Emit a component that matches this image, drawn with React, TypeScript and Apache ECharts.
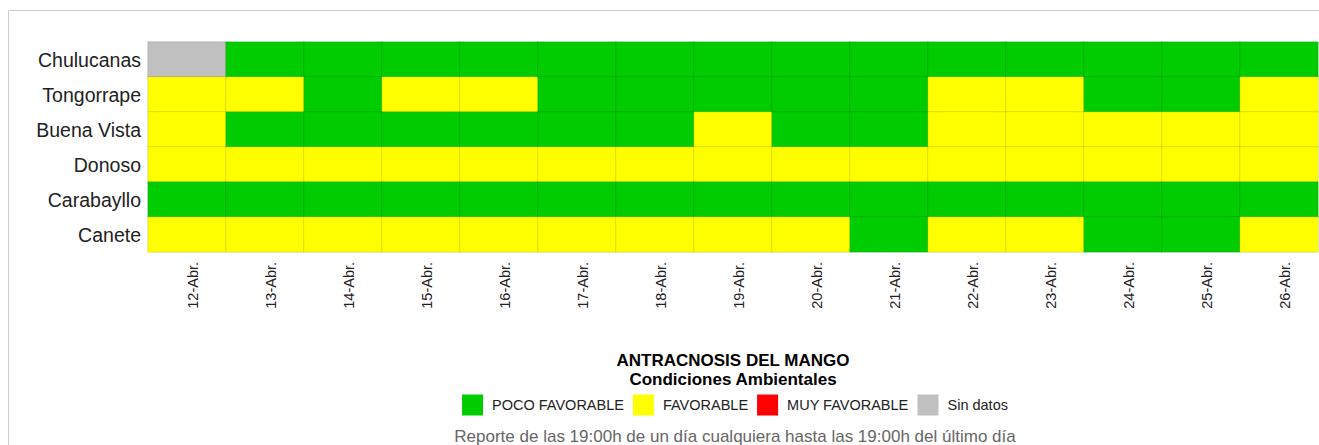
import React, { useEffect, useRef } from "react";
import * as echarts from "echarts";

const days = ["12-Abr.", "13-Abr.", "14-Abr.", "15-Abr.", "16-Abr.", "17-Abr.", "18-Abr.", "19-Abr.", "20-Abr.", "21-Abr.", "22-Abr.", "23-Abr.", "24-Abr.", "25-Abr.", "26-Abr."];
const stations = ["Chulucanas", "Tongorrape", "Buena Vista", "Donoso", "Carabayllo", "Canete"];

// 0 = Sin datos, 1 = POCO FAVORABLE, 2 = FAVORABLE, 3 = MUY FAVORABLE
const chulucanas = [0, 1, 1, 1, 1, 1, 1, 1, 1, 1, 1, 1, 1, 1, 1];
const tongorrape = [2, 2, 1, 2, 2, 1, 1, 1, 1, 1, 2, 2, 1, 1, 2];
const buenaVista = [2, 1, 1, 1, 1, 1, 1, 2, 1, 1, 2, 2, 2, 2, 2];
const donoso = [2, 2, 2, 2, 2, 2, 2, 2, 2, 2, 2, 2, 2, 2, 2];
const carabayllo = [1, 1, 1, 1, 1, 1, 1, 1, 1, 1, 1, 1, 1, 1, 1];
const canete = [2, 2, 2, 2, 2, 2, 2, 2, 2, 1, 2, 2, 1, 1, 2];

const rows = [chulucanas, tongorrape, buenaVista, donoso, carabayllo, canete];

const levelValues = [1, 2, 3, 0];
const levelLabels = ["POCO FAVORABLE", "FAVORABLE", "MUY FAVORABLE", "Sin datos"];
const levelColors = ["#00cc00", "#ffff00", "#ff0000", "#c0c0c0"];

const chartTitle = "ANTRACNOSIS DEL MANGO";
const chartSubtitle = "Condiciones Ambientales";
const footnote = "Reporte de las 19:00h de un día cualquiera hasta las 19:00h del último día";

const FONT = "Liberation Sans, Arial, sans-serif";

function measure(text: string, size: number): number {
  const c = document.createElement("canvas").getContext("2d");
  if (!c) return text.length * size * 0.55;
  c.font = `${size}px ${FONT}`;
  return c.measureText(text).width;
}

export default function App() {
  const ref = useRef<HTMLDivElement>(null);
  useEffect(() => {
    if (!ref.current) return;
    const chart = echarts.init(ref.current, null, { renderer: "svg" });
    const data: number[][] = [];
    rows.forEach((r, yi) => r.forEach((v, xi) => data.push([xi, yi, v])));

    // legend layout (centered)
    const sq = 21;
    const gapText = 9;
    const gapItem = 9;
    const fs = 14.5;
    const widths = levelLabels.map((l) => measure(l, fs));
    const total =
      widths.reduce((s, w) => s + sq + gapText + w, 0) + gapItem * (levelLabels.length - 1);
    let lx = 735 - total / 2;
    const legendEls: any[] = [];
    levelLabels.forEach((lab, i) => {
      legendEls.push({
        type: "rect",
        silent: true,
        shape: { x: lx, y: 394.5, width: sq, height: sq },
        style: { fill: levelColors[i] },
      });
      legendEls.push({
        type: "text",
        silent: true,
        x: lx + sq + gapText,
        y: 405,
        style: {
          text: lab,
          fontSize: fs,
          fill: "#222",
          align: "left",
          verticalAlign: "middle",
          fontFamily: FONT,
        },
      });
      lx += sq + gapText + widths[i] + gapItem;
    });

    chart.setOption({
      animation: false,
      textStyle: { fontFamily: FONT },
      grid: { left: 148, top: 42, right: 1, height: 210 },
      xAxis: {
        type: "category",
        data: days,
        axisLine: { show: false },
        axisTick: { show: false },
        splitLine: { show: false },
        axisLabel: {
          rotate: 90,
          fontSize: 14.5,
          color: "#222",
          margin: 10,
          fontFamily: FONT,
          verticalAlign: "top",
          lineHeight: 12,
        },
      },
      yAxis: {
        type: "category",
        data: stations,
        inverse: true,
        axisLine: { show: false },
        axisTick: { show: false },
        splitLine: { show: false },
        axisLabel: { fontSize: 19.5, color: "#222", margin: 7, fontFamily: FONT },
      },
      visualMap: {
        type: "piecewise",
        show: false,
        pieces: levelValues.map((v, i) => ({ value: v, label: levelLabels[i], color: levelColors[i] })),
      },
      graphic: [
        {
          type: "rect",
          silent: true,
          shape: { x: 8.5, y: 10.5, width: 1400, height: 500 },
          style: { fill: "none", stroke: "#cccccc", lineWidth: 1 },
        },
        {
          type: "text",
          x: 733,
          y: 360,
          style: {
            text: chartTitle,
            fontSize: 17,
            fontWeight: "bold",
            fill: "#000",
            align: "center",
            verticalAlign: "middle",
            fontFamily: FONT,
          },
        },
        {
          type: "text",
          x: 733,
          y: 379,
          style: {
            text: chartSubtitle,
            fontSize: 17,
            fontWeight: "bold",
            fill: "#000",
            align: "center",
            verticalAlign: "middle",
            fontFamily: FONT,
          },
        },
        ...legendEls,
        {
          type: "text",
          x: 735,
          y: 436,
          style: {
            text: footnote,
            fontSize: 17,
            fill: "#666",
            align: "center",
            verticalAlign: "middle",
            fontFamily: FONT,
          },
        },
      ],
      series: [
        {
          type: "heatmap",
          data,
          itemStyle: { borderColor: "rgba(0,0,0,0.12)", borderWidth: 1 },
          emphasis: { disabled: true },
        },
      ],
    });
    return () => chart.dispose();
  }, []);
  return (
    <div
      ref={ref}
      style={{ position: "absolute", left: 0, top: 0, width: 1319, height: 445, background: "#fff" }}
    />
  );
}
